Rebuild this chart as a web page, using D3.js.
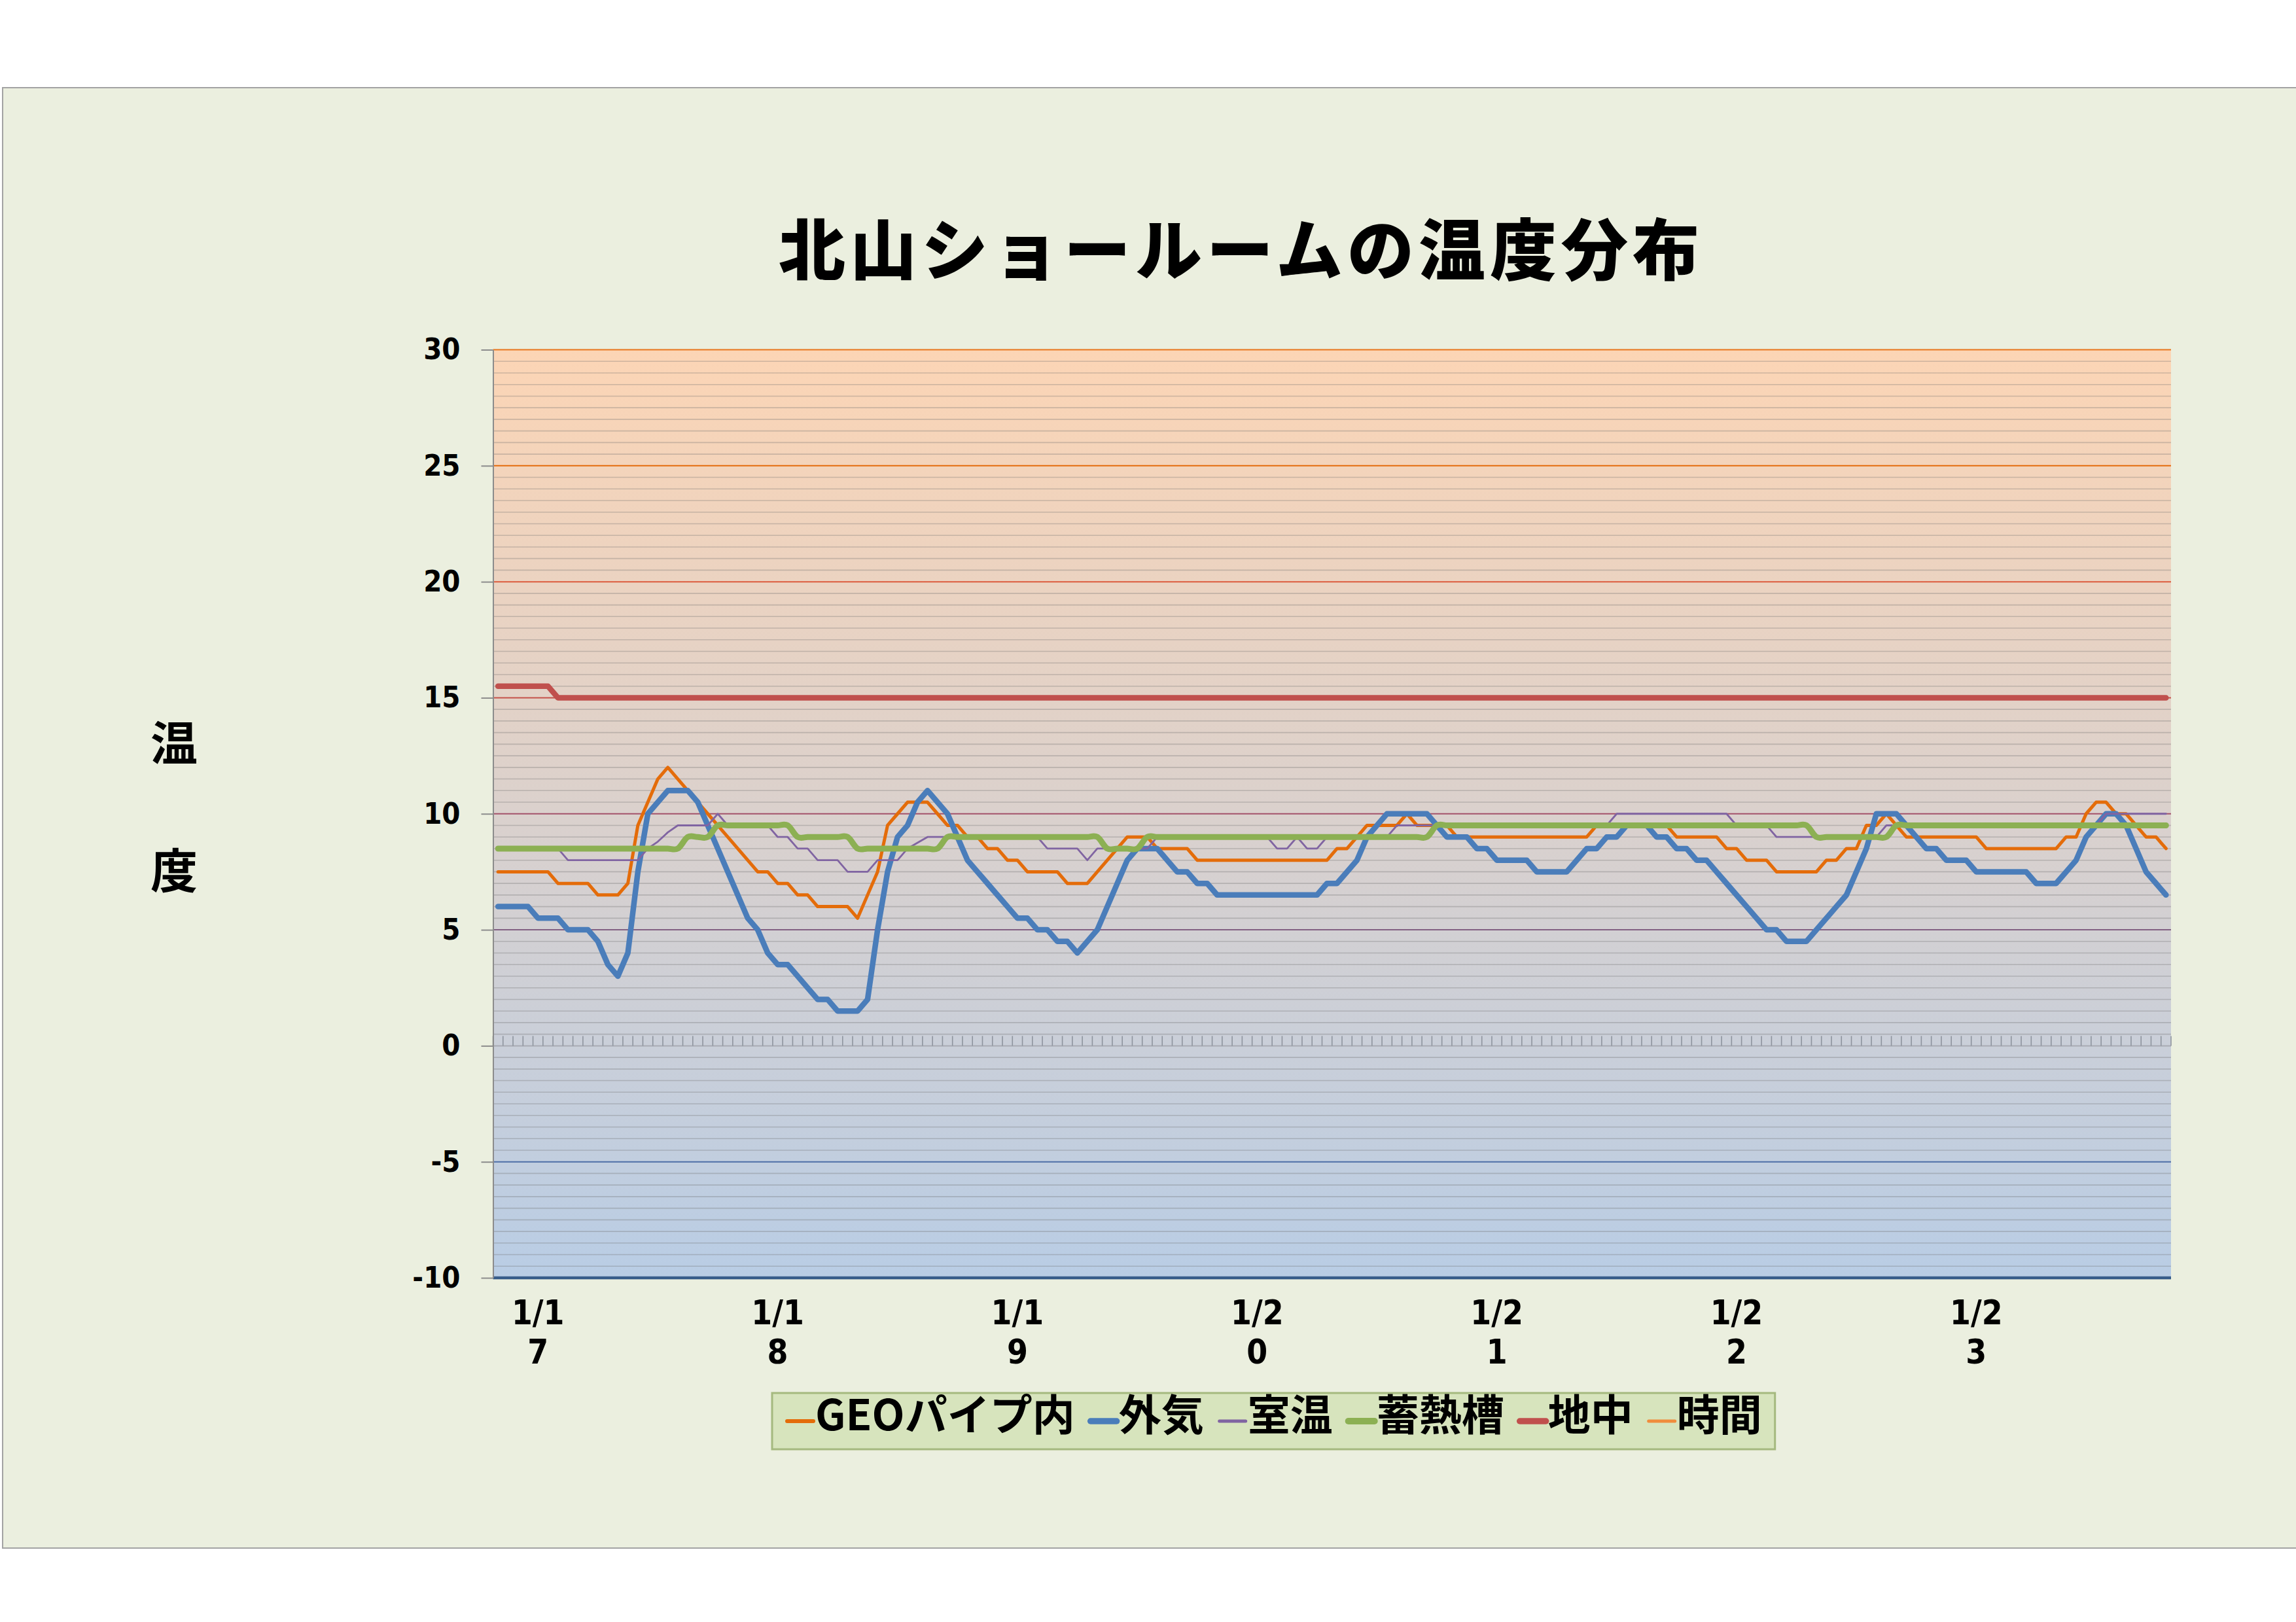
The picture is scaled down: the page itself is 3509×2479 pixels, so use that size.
<!DOCTYPE html>
<html>
<head>
<meta charset="utf-8">
<script src="https://cdn.jsdelivr.net/npm/d3@7"></script>
<style>
html,body{margin:0;padding:0;background:#fff;}
svg{display:block;}
</style>
</head>
<body>
<svg id="chart" width="3509" height="2479"></svg>
<script>
// ---------------- data ----------------
const dayLabels = ["1/17","1/18","1/19","1/20","1/21","1/22","1/23"];
const firstMidnightIndex = 4;   // hourly categories start at 20:00 of the previous day
const hoursPerDay = 24;
const yTicks = [30, 25, 20, 15, 10, 5, 0, -5, -10];
const seriesNames = ["GEOパイプ内", "外気", "室温", "蓄熱槽", "地中", "時間"];

const geoPipe = [
  7.5,7.5,7.5,7.5,7.5,7.5, 7,7,7,7, 6.5,6.5,6.5, 7,
  9.5,10.5,11.5,12, 11.5,11,10.5,10,9.5,9,8.5,8,
  7.5,7.5, 7,7, 6.5,6.5, 6,6,6,6, 5.5,
  6.5,7.5,9.5,10, 10.5,10.5,10.5, 10,9.5,9.5,9,9,
  8.5,8.5, 8,8, 7.5,7.5,7.5,7.5, 7,7,7,
  7.5,8,8.5, 9,9,9, 8.5,8.5,8.5,8.5,
  8,8,8,8,8,8,8,8,8,8,8,8,8,8,
  8.5,8.5, 9, 9.5,9.5,9.5,9.5, 10, 9.5,9.5,9.5,9.5,
  9,9,9,9,9,9,9,9,9,9,9,9,9,9,
  9.5,9.5,9.5,9.5,9.5,9.5,9.5,9.5,
  9,9,9,9,9, 8.5,8.5, 8,8,8, 7.5,7.5,7.5,7.5,7.5,
  8,8, 8.5,8.5, 9.5,9.5, 10, 9.5,
  9,9,9,9,9,9,9,9, 8.5,8.5,8.5,8.5,8.5,8.5,8.5,8.5,
  9,9, 10, 10.5,10.5, 10,10, 9.5, 9,9, 8.5
];

const outdoor = [
  6,6,6,6, 5.5,5.5,5.5, 5,5,5, 4.5, 3.5, 3, 4,
  7.5, 10, 10.5, 11,11,11, 10.5,9.5,8.5,7.5,6.5,5.5,
  5, 4, 3.5,3.5, 3, 2.5, 2,2, 1.5,1.5,1.5,
  2, 5, 7.5, 9, 9.5, 10.5, 11, 10.5, 10, 9, 8, 7.5,
  7, 6.5, 6, 5.5,5.5, 5,5, 4.5,4.5, 4, 4.5,
  5, 6, 7, 8, 8.5,8.5,8.5, 8, 7.5,7.5,
  7,7, 6.5,6.5,6.5,6.5,6.5,6.5,6.5,6.5,6.5,6.5,6.5, 7,
  7, 7.5, 8, 9, 9.5, 10,10,10,10,10, 9.5, 9,
  9,9, 8.5,8.5, 8,8,8,8, 7.5,7.5,7.5,7.5, 8, 8.5,
  8.5, 9,9, 9.5,9.5,9.5, 9,9,
  8.5,8.5, 8,8, 7.5, 7, 6.5, 6, 5.5, 5,5, 4.5,4.5,4.5, 5,
  5.5, 6, 6.5, 7.5, 8.5, 10,10,10,
  9.5, 9, 8.5,8.5, 8,8,8, 7.5,7.5,7.5,7.5,7.5,7.5, 7,7,7,
  7.5, 8, 9, 9.5, 10,10, 9.5, 8.5, 7.5, 7, 6.5
];

const room = [
  8.5,8.5,8.5,8.5,8.5,8.5,8.5, 8,8,8,8,8,8,8,8,
  8.5, 8.8, 9.2,
  9.5,9.5,9.5,9.5, 10, 9.5,9.5,9.5,9.5,9.5,
  9,9, 8.5,8.5, 8,8,8, 7.5,7.5,7.5, 8,8,8, 8.5, 8.75,
  9,9,9,9,9,9,9,9,9,9,9,9,
  8.5,8.5,8.5,8.5, 8, 8.5,8.5,8.5,8.5,8.5,8.5,
  9,9,9,9,9,9,9,9,9,9,9,9,
  8.5,8.5, 9, 8.5,8.5,
  9,9,9,9,9,9,9,
  9.5,9.5,9.5,9.5,9.5,9.5,9.5,9.5,9.5,9.5,9.5,9.5,9.5,9.5,9.5,9.5,9.5,9.5,9.5,9.5,9.5,9.5,
  10,10,10,10,10,10,10,10,10,10,10,10,
  9.5,9.5,9.5,9.5,
  9,9,9,9,9,9,9,9,9,9,9,
  9.5,9.5,9.5,9.5,9.5,9.5,9.5,9.5,9.5,9.5,9.5,9.5,9.5,9.5,9.5,9.5,9.5,9.5,9.5,9.5,9.5,9.5,
  10,10,10,10,10,10,10
];

const storage = [
  8.5,8.5,8.5,8.5,8.5,8.5,8.5,8.5,8.5,8.5,8.5,8.5,8.5,8.5,8.5,8.5,8.5,8.5,8.5,
  9,9,9,
  9.5,9.5,9.5,9.5,9.5,9.5,9.5,9.5,
  9,9,9,9,9,9,
  8.5,8.5,8.5,8.5,8.5,8.5,8.5,8.5,8.5,
  9,9,9,9,9,9,9,9,9,9,9,9,9,9,9,9,
  8.5,8.5,8.5,8.5,
  9,9,9,9,9,9,9,9,9,9,9,9,9,9,9,9,9,9,9,9,9,9,9,9,9,9,9,9,9,
  9.5,9.5,9.5,9.5,9.5,9.5,9.5,9.5,9.5,9.5,9.5,9.5,9.5,9.5,9.5,9.5,9.5,9.5,9.5,
  9.5,9.5,9.5,9.5,9.5,9.5,9.5,9.5,9.5,9.5,9.5,9.5,9.5,9.5,9.5,9.5,9.5,9.5,9.5,
  9,9,9,9,9,9,9,9,
  9.5,9.5,9.5,9.5,9.5,9.5,9.5,9.5,9.5,9.5,9.5,9.5,9.5,9.5,
  9.5,9.5,9.5,9.5,9.5,9.5,9.5,9.5,9.5,9.5,9.5,9.5,9.5,9.5
];

const ground = [
  15.5,15.5,15.5,15.5,15.5,15.5,
  15,15,15,15,15,15,15,15,15,15,15,15,15,15,15,15,15,15,15,15,15,15,15,15,15,15,15,15,15,15,15,15,15,15,15,15,15,15,15,15,15,15,15,15,15,15,15,15,15,15,15,15,15,15,15,15,15,15,15,15,15,15,15,15,15,15,15,15,15,15,15,15,15,15,15,15,15,15,15,15,15,15,
  15,15,15,15,15,15,15,15,15,15,15,15,15,15,15,15,15,15,15,15,15,15,15,15,15,15,15,15,15,15,15,15,15,15,15,15,15,15,15,15,15,15,15,15,15,15,15,15,15,15,15,15,15,15,15,15,15,15,15,15,15,15,15,15,15,15,15,15,15,15,15,15,15,15,15,15,15,15,15,15,15,15
];

const timeValues = []; // 時間: no plotted points in the visible range

// ---------------- layout ----------------
const svg = d3.select("#chart");
const plot = {left: 753.5, right: 3318, top: 534.5, bottom: 1953};

const hours = d3.range(geoPipe.length);
const x = d3.scaleBand().domain(hours).range([plot.left, plot.right]).paddingInner(0).paddingOuter(0);
const xc = i => x(i) + x.bandwidth() / 2;
const y = d3.scaleLinear().domain([-10, 30]).range([plot.bottom, plot.top]);

// backgrounds
svg.append("rect").attr("x", 0).attr("y", 0).attr("width", 3509).attr("height", 2479).attr("fill", "#ffffff");
svg.append("rect").attr("x", 4).attr("y", 134).attr("width", 3520).attr("height", 2232)
  .attr("fill", "#EBEFDF").attr("stroke", "#A3A3A3").attr("stroke-width", 2);

const defs = svg.append("defs");
const bg = defs.append("linearGradient").attr("id", "plotBg")
  .attr("gradientUnits", "userSpaceOnUse").attr("x1", 0).attr("x2", 0)
  .attr("y1", plot.top).attr("y2", plot.bottom);
bg.append("stop").attr("offset", 0).attr("stop-color", "#FCD5B5");
bg.append("stop").attr("offset", 1).attr("stop-color", "#B9CDE5");

const gg = defs.append("linearGradient").attr("id", "gridGrad")
  .attr("gradientUnits", "userSpaceOnUse").attr("x1", 0).attr("x2", 0)
  .attr("y1", plot.top).attr("y2", plot.bottom);
[[0, "#E8761E"], [0.12, "#E46C0A"], [0.25, "#DC5A3C"], [0.4, "#C0504D"],
 [0.52, "#9E5270"], [0.64, "#7E6285"], [0.86, "#5070AA"], [1, "#385D8A"]]
  .forEach(([o, c]) => gg.append("stop").attr("offset", o).attr("stop-color", c));

svg.append("rect").attr("x", plot.left).attr("y", plot.top)
  .attr("width", plot.right - plot.left).attr("height", plot.bottom - plot.top)
  .attr("fill", "url(#plotBg)");

// minor gridlines (every 0.5)
const minor = d3.range(-10, 30.001, 0.5).filter(v => !yTicks.includes(v));
svg.append("g").selectAll("line").data(minor).join("line")
  .attr("x1", plot.left).attr("x2", plot.right)
  .attr("y1", d => y(d)).attr("y2", d => y(d))
  .attr("stroke", "rgba(110,110,110,0.32)").attr("stroke-width", 1.6);

// major gridlines
svg.append("g").selectAll("line").data(yTicks).join("line")
  .attr("x1", plot.left).attr("x2", plot.right)
  .attr("y1", d => y(d)).attr("y2", d => y(d))
  .attr("stroke", d => d === 0 ? "#A8ABB4" : "url(#gridGrad)")
  .attr("stroke-width", d => d === -10 ? 4.5 : 2);

// category tick marks on the horizontal axis (crosses at 0)
const bounds = d3.range(hours.length + 1).map(i => plot.left + i * x.bandwidth());
svg.append("g").selectAll("line").data(bounds).join("line")
  .attr("x1", d => d).attr("x2", d => d)
  .attr("y1", y(0)).attr("y2", y(0) - 15)
  .attr("stroke", "#8E949E").attr("stroke-width", 1.6);

// y axis
const yAxis = d3.axisLeft(y).tickValues(yTicks).tickFormat(d => String(d))
  .tickSize(18).tickSizeOuter(0).tickPadding(32);
const gy = svg.append("g").attr("transform", `translate(${plot.left},0)`).call(yAxis);
gy.select(".domain").attr("stroke", "#8C8C8C").attr("stroke-width", 2);
gy.selectAll(".tick line").attr("stroke", "#8C8C8C").attr("stroke-width", 2);
gy.selectAll(".tick text")
  .attr("font-family", "'DejaVu Sans Condensed','DejaVu Sans',sans-serif")
  .attr("font-weight", "bold").attr("font-size", 45).attr("fill", "#000");

// x labels (wrapped like the original: "1/1" over "7")
const xLab = svg.append("g");
dayLabels.forEach((lab, k) => {
  const i = firstMidnightIndex + k * hoursPerDay;
  [lab.slice(0, 3), lab.slice(3)].forEach((part, li) => {
    xLab.append("text").attr("text-anchor", "middle")
      .attr("x", xc(i)).attr("y", 2024 + li * 60)
      .attr("font-family", "'Liberation Sans Narrow','DejaVu Sans Condensed',sans-serif")
      .attr("font-weight", "bold").attr("font-size", 51).attr("fill", "#000")
      .text(part);
  });
});

// series lines
const series = [
  {name: seriesNames[0], values: geoPipe, color: "#E46C0A", width: 5, curve: d3.curveLinear},
  {name: seriesNames[1], values: outdoor, color: "#4A7DBA", width: 8.5, curve: d3.curveLinear},
  {name: seriesNames[2], values: room, color: "#8064A2", width: 2.8, curve: d3.curveLinear},
  {name: seriesNames[3], values: storage, color: "#8CB053", width: 9, curve: d3.curveCardinal.tension(0)},
  {name: seriesNames[4], values: ground, color: "#C0504D", width: 8.5, curve: d3.curveLinear},
  {name: seriesNames[5], values: timeValues, color: "#F08C3C", width: 4, curve: d3.curveLinear}
];

const lg = svg.append("g");
series.forEach(s => {
  if (!s.values.length) return;
  const line = d3.line().x((d, i) => xc(i)).y(d => y(d)).curve(s.curve);
  lg.append("path").datum(s.values).attr("d", line)
    .attr("fill", "none").attr("stroke", s.color).attr("stroke-width", s.width)
    .attr("stroke-linejoin", "round").attr("stroke-linecap", "round");
});

// title
svg.append("text").attr("x", 1897).attr("y", 420).attr("text-anchor", "middle")
  .attr("font-family", "'Noto Sans CJK JP',sans-serif").attr("font-weight", "900")
  .attr("font-size", 102).attr("letter-spacing", 7).attr("fill", "#000")
  .text("北山ショールームの温度分布");

// y-axis title (vertical, stacked)
["温", "度"].forEach((c, k) => {
  svg.append("text").attr("x", 266).attr("y", 1130 + k * 195)
    .attr("text-anchor", "middle").attr("dominant-baseline", "central")
    .attr("font-family", "'Noto Sans CJK JP',sans-serif").attr("font-weight", "bold")
    .attr("font-size", 72).attr("fill", "#000").text(c);
});

// legend
const leg = svg.append("g");
const legBox = leg.append("rect").attr("fill", "#D7E4BD").attr("stroke", "#A5B97F").attr("stroke-width", 3);
let cx = 1203;
const legY = 2172;
series.forEach(s => {
  leg.append("line").attr("x1", cx).attr("x2", cx + 40).attr("y1", legY).attr("y2", legY)
    .attr("stroke", s.color).attr("stroke-width", Math.max(5, Math.min(s.width + 1, 10)))
    .attr("stroke-linecap", "round");
  const t = leg.append("text").attr("x", cx + 43).attr("y", 2186)
    .attr("font-family", "'Noto Sans CJK JP',sans-serif").attr("font-weight", "bold")
    .attr("font-size", 65).attr("fill", "#000").text(s.name);
  cx += 43 + t.node().getComputedTextLength() + 24;
});
legBox.attr("x", 1180).attr("y", 2129).attr("width", cx - 1180 - 4).attr("height", 86);
</script>
</body>
</html>
